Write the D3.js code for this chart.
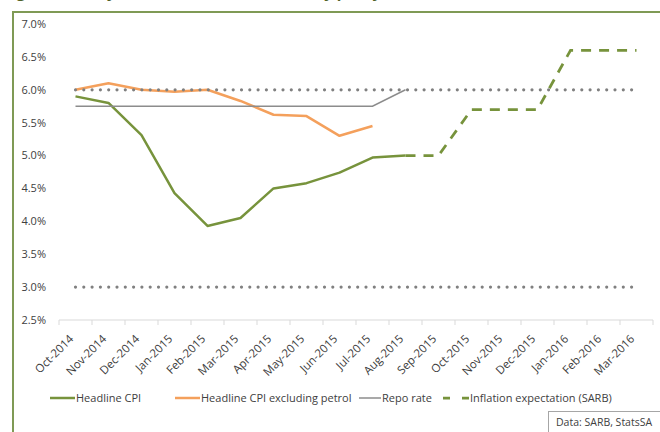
<!DOCTYPE html>
<html>
<head>
<meta charset="utf-8">
<script src="https://cdn.jsdelivr.net/npm/d3@7"></script>
<style>
  body { margin: 0; background: #fff; }
  svg { display: block; font-family: "Open Sans", sans-serif; }
</style>
</head>
<body>
<svg id="chart" width="660" height="432"></svg>
<script>
// categories
const months = ["Oct-2014", "Nov-2014", "Dec-2014", "Jan-2015", "Feb-2015", "Mar-2015",
  "Apr-2015", "May-2015", "Jun-2015", "Jul-2015", "Aug-2015", "Sep-2015", "Oct-2015",
  "Nov-2015", "Dec-2015", "Jan-2016", "Feb-2016", "Mar-2016"];

// series values (%), each starting at Oct-2014 unless noted
const headlineCpi = [5.9, 5.8, 5.31, 4.43, 3.93, 4.05, 4.5, 4.58, 4.74, 4.97, 5.0];
const cpiExPetrol = [6.0, 6.1, 6.0, 5.97, 6.0, 5.83, 5.62, 5.6, 5.3, 5.45];
const repoRate = [5.75, 5.75, 5.75, 5.75, 5.75, 5.75, 5.75, 5.75, 5.75, 5.75, 6.0];
const expectStart = 10; // Aug-2015
const inflationExpect = [5.0, 5.0, 5.7, 5.7, 5.7, 6.6, 6.6, 6.6];
const targetUpper = 6.0;
const targetLower = 3.0;

const yTicks = [2.5, 3.0, 3.5, 4.0, 4.5, 5.0, 5.5, 6.0, 6.5, 7.0];

const svg = d3.select("#chart");

const green = "#77933c", orange = "#f4a05c", grey = "#8c8c8c", dotGrey = "#808080";

// frame + title (cut off at the top, as in the source)
svg.append("text")
  .attr("x", 4).attr("y", -2)
  .style("font-size", "15px").style("font-weight", "bold")
  .style("fill", "#4f6228")
  .text("Figure 4: Policy rate, inflation and monetary policy");

svg.append("path")
  .attr("d", "M13,440 L13,12 L670,12")
  .attr("fill", "none")
  .attr("stroke", "#7f9a55")
  .attr("stroke-width", 2);

// scales
const x = d3.scaleBand().domain(months).range([59, 653]);
const y = d3.scaleLinear().domain([2.5, 7.0]).range([320, 24]);
const cx = (i) => x(months[i]) + x.bandwidth() / 2;

// y labels
svg.append("g").selectAll("text")
  .data(yTicks).enter()
  .append("text")
  .attr("x", 46)
  .attr("y", (d) => y(d))
  .attr("dy", "0.35em")
  .attr("text-anchor", "end")
  .style("font-size", "11px").style("fill", "#404040")
  .text((d) => d.toFixed(1) + "%");

// x axis
const xAxis = svg.append("g");
xAxis.append("line")
  .attr("x1", 59).attr("x2", 653)
  .attr("y1", y(2.5)).attr("y2", y(2.5))
  .attr("stroke", "#d9d9d9");
xAxis.selectAll(".tick")
  .data(d3.range(months.length + 1)).enter()
  .append("line")
  .attr("x1", (i) => 59 + i * x.bandwidth())
  .attr("x2", (i) => 59 + i * x.bandwidth())
  .attr("y1", y(2.5)).attr("y2", y(2.5) + 5)
  .attr("stroke", "#d9d9d9");
xAxis.selectAll(".lbl")
  .data(months).enter()
  .append("text")
  .attr("transform", (d, i) => `translate(${cx(i) - 7},${y(2.5) + 14}) rotate(-45)`)
  .attr("dy", "0.7em")
  .attr("text-anchor", "end")
  .style("font-size", "11.5px").style("fill", "#404040")
  .text((d) => d);

const line = d3.line().x((d) => cx(d.i)).y((d) => y(d.v));
const toPts = (arr, start) => arr.map((v, k) => ({ i: start + k, v: v }));

// series
svg.append("path").datum(toPts(headlineCpi, 0))
  .attr("d", line).attr("fill", "none")
  .attr("stroke", green).attr("stroke-width", 2.5).attr("stroke-linejoin", "round");

svg.append("path").datum(toPts(cpiExPetrol, 0))
  .attr("d", line).attr("fill", "none")
  .attr("stroke", orange).attr("stroke-width", 2.5).attr("stroke-linejoin", "round");

svg.append("path").datum(toPts(repoRate, 0))
  .attr("d", line).attr("fill", "none")
  .attr("stroke", grey).attr("stroke-width", 1.5);

svg.append("path").datum(toPts(inflationExpect, expectStart))
  .attr("d", line).attr("fill", "none")
  .attr("stroke", green).attr("stroke-width", 2.75)
  .attr("stroke-dasharray", "10,8");

// target band dotted lines
[targetUpper, targetLower].forEach(function (t) {
  svg.append("path")
    .datum(months.map((m, i) => ({ i: i, v: t })))
    .attr("d", line).attr("fill", "none")
    .attr("stroke", dotGrey).attr("stroke-width", 3.2)
    .attr("stroke-linecap", "round")
    .attr("stroke-dasharray", "0,8.3");
});

// legend
const legend = [
  { name: "Headline CPI", color: green, x: 50, w: 25, dash: null, width: 2.5 },
  { name: "Headline CPI excluding petrol", color: orange, x: 175, w: 25, dash: null, width: 2.5 },
  { name: "Repo rate", color: grey, x: 359, w: 22, dash: null, width: 1.5 },
  { name: "Inflation expectation (SARB)", color: green, x: 443, w: 26, dash: "7,12", width: 2.75 }
];
const lg = svg.append("g").attr("transform", "translate(0,398)");
legend.forEach(function (d) {
  lg.append("line")
    .attr("x1", d.x).attr("x2", d.x + d.w)
    .attr("y1", 0).attr("y2", 0)
    .attr("stroke", d.color).attr("stroke-width", d.width)
    .attr("stroke-dasharray", d.dash);
  lg.append("text")
    .attr("x", d.x + d.w + 1).attr("y", 0).attr("dy", "0.35em")
    .style("font-size", "11px").style("fill", "#404040")
    .text(d.name);
});

// source box
svg.append("rect")
  .attr("x", 548.5).attr("y", 411.5)
  .attr("width", 130).attr("height", 40)
  .attr("fill", "#fff").attr("stroke", "#a6a6a6");
svg.append("text")
  .attr("x", 556).attr("y", 426)
  .style("font-size", "10.5px").style("fill", "#404040")
  .text("Data: SARB, StatsSA");
</script>
</body>
</html>
